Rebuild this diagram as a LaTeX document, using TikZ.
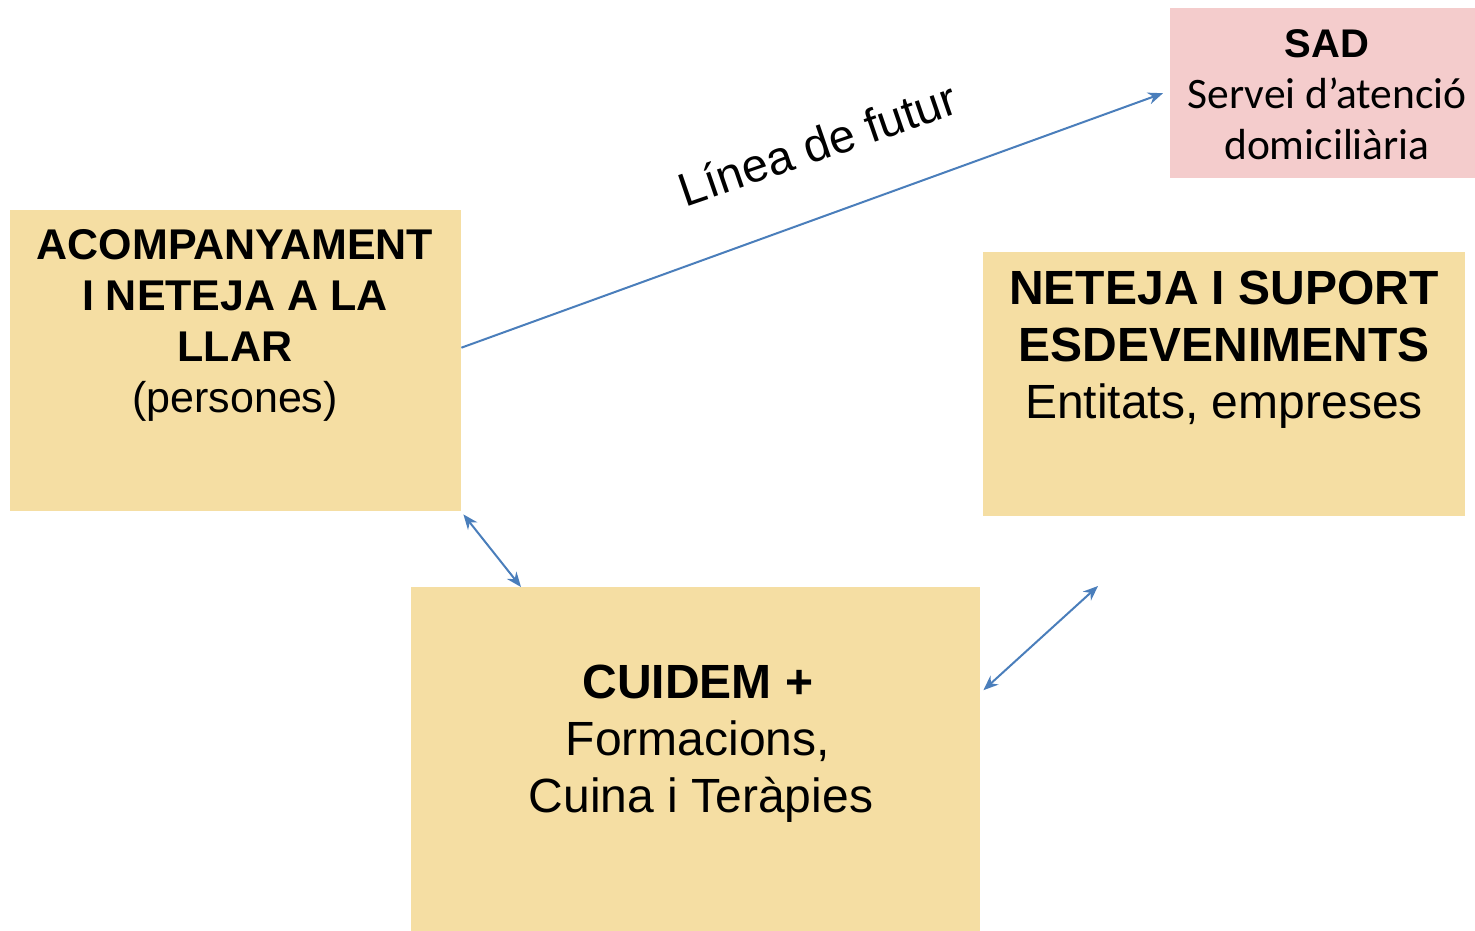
\documentclass[tikz,border=0pt]{standalone}
\usepackage{fontspec}
\setmainfont{Liberation Sans}
\newfontfamily\calibri{Carlito}
\usetikzlibrary{arrows.meta}
\definecolor{boxtan}{RGB}{245,222,163}
\definecolor{boxpink}{RGB}{244,204,204}
\definecolor{linkblue}{RGB}{74,126,187}

\begin{document}
\begin{tikzpicture}[x=1pt, y=-1pt,
  box/.style={draw=none, inner sep=0pt, anchor=north west},
  txt/.style={align=center, inner sep=0pt, anchor=north},
  link/.style={linkblue, line width=2pt, -{Stealth[length=15pt,width=12pt]}},
  both/.style={link, {Stealth[length=15pt,width=12pt]}-{Stealth[length=15pt,width=12pt]}}]
\useasboundingbox (0,0) rectangle (1475,931);
%boxes
\node[box, fill=boxpink, minimum width=305pt, minimum height=170pt] (sad) at (1170,8) {};
\node[box, fill=boxtan, minimum width=451pt, minimum height=301pt] (acomp) at (10,210) {};
\node[box, fill=boxtan, minimum width=482pt, minimum height=264pt] (neteja) at (983,252) {};
\node[box, fill=boxtan, minimum width=569pt, minimum height=344pt] (cuidem) at (411,587) {};
%texts
\node[txt, font=\calibri\fontsize{43.5}{51}\selectfont] (sadtxt) at (1327,29) {{\fontspec{Liberation Sans}\fontsize{40}{51}\selectfont\bfseries SAD}\\Servei d’atenció\\domiciliària};
\node[txt, font=\fontsize{43}{51}\selectfont] (acomptxt) at (235,229) {\textbf{ACOMPANYAMENT}\\\textbf{I NETEJA A LA}\\\textbf{LLAR}\\(persones)};
\node[txt, font=\fontsize{48}{57}\selectfont] (netejatxt) at (1224,271) {\textbf{NETEJA I SUPORT}\\\textbf{ESDEVENIMENTS}\\Entitats, empreses};
\node[txt, font=\fontsize{48}{57}\selectfont] (cuidemtxt) at (698,665) {\textbf{CUIDEM +}\\Formacions,\\\hspace*{6pt}Cuina i Teràpies};
\node[anchor=base, inner sep=0pt, rotate=19, font=\fontsize{47}{52}\selectfont] (futur) at (823,160) {Línea de futur};
%links
\coordinate (nfree) at (1098,586);
\draw[link] ([yshift=13pt]acomp.east) -- ([xshift=-7pt]sad.west);
\draw[both] ([shift={(2pt,-3pt)}]acomp.south east) -- ([xshift=110pt]cuidem.north west);
\draw[both] ([shift={(3pt,69pt)}]cuidem.east) -- (nfree);
\end{tikzpicture}
\end{document}
